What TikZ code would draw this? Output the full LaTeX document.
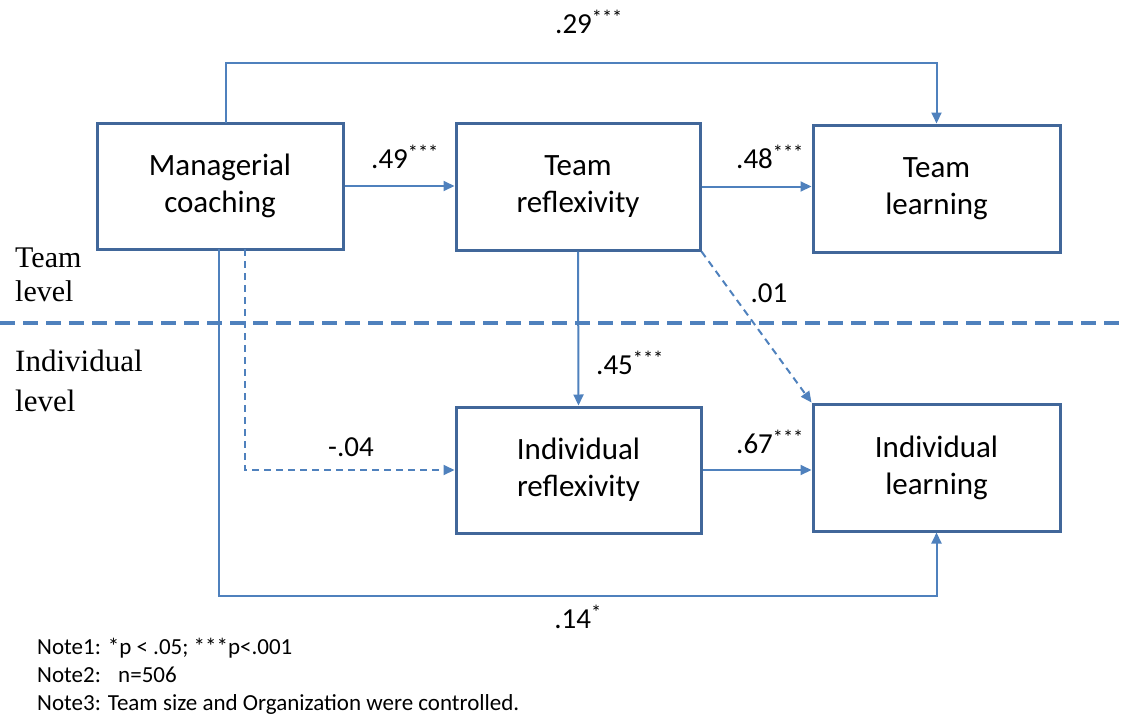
\documentclass[tikz,border=0pt]{standalone}
\usepackage{fontspec}
\setmainfont{Carlito}
\newfontfamily\serifl{Liberation Serif}
\usetikzlibrary{arrows.meta}
\definecolor{boxc}{HTML}{41679A}
\definecolor{arrc}{HTML}{4F81BD}
\begin{document}
\begin{tikzpicture}[x=1pt,y=-1pt,
  box/.style={draw=boxc,line width=3pt,fill=white,align=center,inner sep=0pt,
              font=\fontsize{31}{37}\selectfont},
  conn/.style={draw=arrc,line width=2pt},
  arr/.style={conn,-{Triangle[length=11pt,width=10pt]}},
  dsh/.style={dash pattern=on 7pt off 5pt},
  lbl/.style={font=\fontsize{29}{34}\selectfont,inner sep=0pt},
  lvl/.style={anchor=west,align=left,inner sep=0pt},
]
\useasboundingbox (0,0) rectangle (1121,720);
% boxes
\node[box,minimum width=246pt,minimum height=126pt] (mc) at (220,186) {Managerial\\coaching};
\node[box,minimum width=244pt,minimum height=127pt] (tr) at (578,186.5) {Team\\reflexivity};
\node[box,minimum width=247pt,minimum height=127pt] (tl) at (936.5,188.5) {Team\\learning};
\node[box,minimum width=245pt,minimum height=126pt] (ir) at (578.5,470) {Individual\\reflexivity};
\node[box,minimum width=247pt,minimum height=127pt] (il) at (936.5,467.5) {Individual\\learning};
% separator
\coordinate (sepL) at (0,323);
\coordinate (sepR) at (1121,323);
\draw[arrc,line width=4pt,dash pattern=on 15pt off 8pt] (sepL) -- (sepR);
% connectors
\coordinate (mct) at (226,123);
\coordinate (mcb1) at (219,249);
\coordinate (mcb2) at (245,249);
\draw[arr] (mct) -- ++(0,-60) -| (tl.north);
\draw[arr] (mc.east) -- (mc.east -| tr.west);
\draw[arr] (tr.east) -- (tr.east -| tl.west);
\draw[arr] (tr.south) -- (ir.north);
\draw[arr] (ir.east) -- (ir.east -| il.west);
\draw[arr,dsh] (tr.south east) -- (il.north west);
\draw[arr,dsh] (mcb2) |- (ir.west);
\draw[arr] (mcb1) -- ++(0,347) -| (il.south);
% labels
\node[lbl] (l29) at (589,22) {.29\textsuperscript{***}};
\node[lbl] (l49) at (405,157) {.49\textsuperscript{***}};
\node[lbl] (l48) at (770,157) {.48\textsuperscript{***}};
\node[lbl] (l01) at (769,293) {.01};
\node[lbl] (l45) at (630,363) {.45\textsuperscript{***}};
\node[lbl] (l04) at (351,447) {-.04};
\node[lbl] (l67) at (770,442) {.67\textsuperscript{***}};
\node[lbl] (l14) at (578,617) {.14\textsuperscript{*}};
% level labels
\node[lvl,font=\serifl\fontsize{30}{34}\selectfont] (tlev) at (15,275) {Team\\level};
\node[lvl,font=\serifl\fontsize{31}{40}\selectfont] (ilev) at (15,381) {Individual\\level};
% notes
\node[lvl,font=\fontsize{23}{28}\selectfont] (notes) at (37,676)
  {Note1: *p {\textless} .05; ***p{\textless}.001\\Note2: \ \ n=506\\Note3: Team size and Organization were controlled.};
\end{tikzpicture}
\end{document}
